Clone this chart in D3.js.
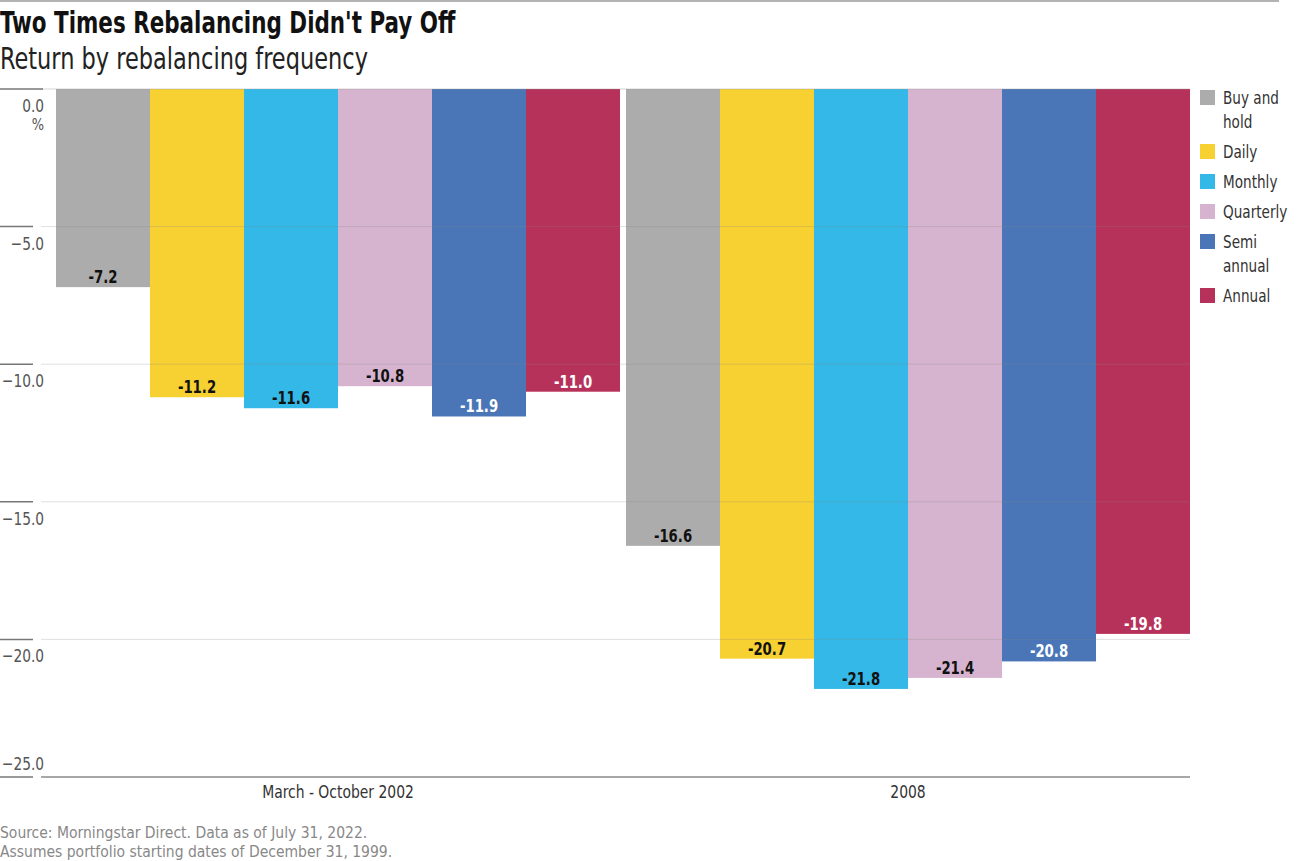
<!DOCTYPE html>
<html><head><meta charset="utf-8">
<script src="https://cdn.jsdelivr.net/npm/d3@7"></script>
<style>
body{margin:0;background:#fff;}
text{font-family:"DejaVu Sans Condensed","DejaVu Sans",sans-serif;font-stretch:condensed;}
</style></head>
<body>
<svg id="chart" width="1300" height="861"></svg>
<script>
const groups = ["March - October 2002", "2008"];
const series = ["Buy and hold", "Daily", "Monthly", "Quarterly", "Semi annual", "Annual"];
const legendLines = [["Buy and","hold"],["Daily"],["Monthly"],["Quarterly"],["Semi","annual"],["Annual"]];
const colors = ["#acacac", "#f7d032", "#33b8e7", "#d6b4cf", "#4a76b7", "#b7325a"];
const labelColors = ["#111", "#111", "#111", "#111", "#fff", "#fff"];
const values2002 = [-7.2, -11.2, -11.6, -10.8, -11.9, -11.0];
const values2008 = [-16.6, -20.7, -21.8, -21.4, -20.8, -19.8];
const yTicks = [0, -5, -10, -15, -20, -25];

const svg = d3.select("#chart");
const y = d3.scaleLinear().domain([0, -25]).range([89, 777]);
const x0 = d3.scaleBand().domain(groups).range([53, 1193]).paddingInner(0.0105).paddingOuter(0.00526);
const x1 = d3.scaleBand().domain(series).range([0, x0.bandwidth()]);
const data = [values2002, values2008];

function txt(parent, x, yy, str, size, sx, opts = {}) {
  return parent.append("text")
    .attr("transform", `translate(${x},${yy}) scale(${sx},1)`)
    .attr("font-size", size)
    .attr("font-weight", opts.weight || "normal")
    .attr("text-anchor", opts.anchor || "start")
    .attr("fill", opts.fill || "#333")
    .text(str);
}

// top rule
svg.append("line").attr("x1",0).attr("x2",1279).attr("y1",1).attr("y2",1).attr("stroke","#9a9a9a").attr("stroke-width",1.5);

// title
txt(svg, 0, 33, "Two Times Rebalancing Didn't Pay Off", 30, 0.795, {weight:"bold", fill:"#111"});
txt(svg, 0, 69, "Return by rebalancing frequency", 30, 0.833, {fill:"#222"});

// bars
groups.forEach((g, gi) => {
  const gg = svg.append("g").attr("transform", `translate(${x0(g)},0)`);
  series.forEach((s, si) => {
    const v = data[gi][si];
    gg.append("rect").attr("x", x1(s)).attr("y", y(0)).attr("width", x1.bandwidth())
      .attr("height", y(v) - y(0)).attr("fill", colors[si]);
    txt(gg, x1(s) + x1.bandwidth()/2, y(v) - 4, v.toFixed(1), 18, 0.82,
      {anchor:"middle", weight:"bold", fill: labelColors[si]});
  });
});

// gridlines (drawn over bars, faint)
yTicks.slice(1, 5).forEach(t => {
  svg.append("line").attr("x1",41).attr("x2",1190).attr("y1",y(t)).attr("y2",y(t))
    .attr("stroke","#888").attr("stroke-opacity",0.25).attr("stroke-width",1);
});
svg.append("line").attr("x1",41).attr("x2",1190).attr("y1",y(-25)).attr("y2",y(-25))
  .attr("stroke","#8a8a8a").attr("stroke-width",1.5);
svg.append("line").attr("x1",41).attr("x2",1190).attr("y1",y(0)).attr("y2",y(0))
  .attr("stroke","#999").attr("stroke-opacity",0.4).attr("stroke-width",1);

// y axis tick marks and labels
yTicks.forEach(t => {
  svg.append("line").attr("x1",0).attr("x2",t===0?43:33).attr("y1",y(t)).attr("y2",y(t))
    .attr("stroke","#777").attr("stroke-width",1.5);
  const ly = t === -25 ? y(t) - 7 : y(t) + 23;
  txt(svg, 44, ly, t === 0 ? "0.0" : "\u2212" + Math.abs(t).toFixed(1), 18, 0.85,
    {anchor:"end", fill:"#555"});
});
txt(svg, 44, y(0) + 41, "%", 16, 0.9, {anchor:"end", fill:"#555"});

// x labels
groups.forEach(g => {
  txt(svg, x0(g) + x0.bandwidth()/2, 798, g, 18, 0.86, {anchor:"middle", fill:"#333"});
});

// legend
let ly = 89;
legendLines.forEach((lines, i) => {
  svg.append("rect").attr("x",1200).attr("y",ly+1).attr("width",15).attr("height",15).attr("fill",colors[i]);
  lines.forEach((ln, j) => {
    txt(svg, 1223, ly + 15 + j*24, ln, 18, 0.84, {fill:"#333"});
  });
  ly += 30 + (lines.length - 1) * 24;
});

// footnotes
txt(svg, 0, 838, "Source: Morningstar Direct. Data as of July 31, 2022.", 16.5, 0.94, {fill:"#888"});
txt(svg, 0, 857, "Assumes portfolio starting dates of December 31, 1999.", 16.5, 0.94, {fill:"#888"});
</script>
</body></html>
